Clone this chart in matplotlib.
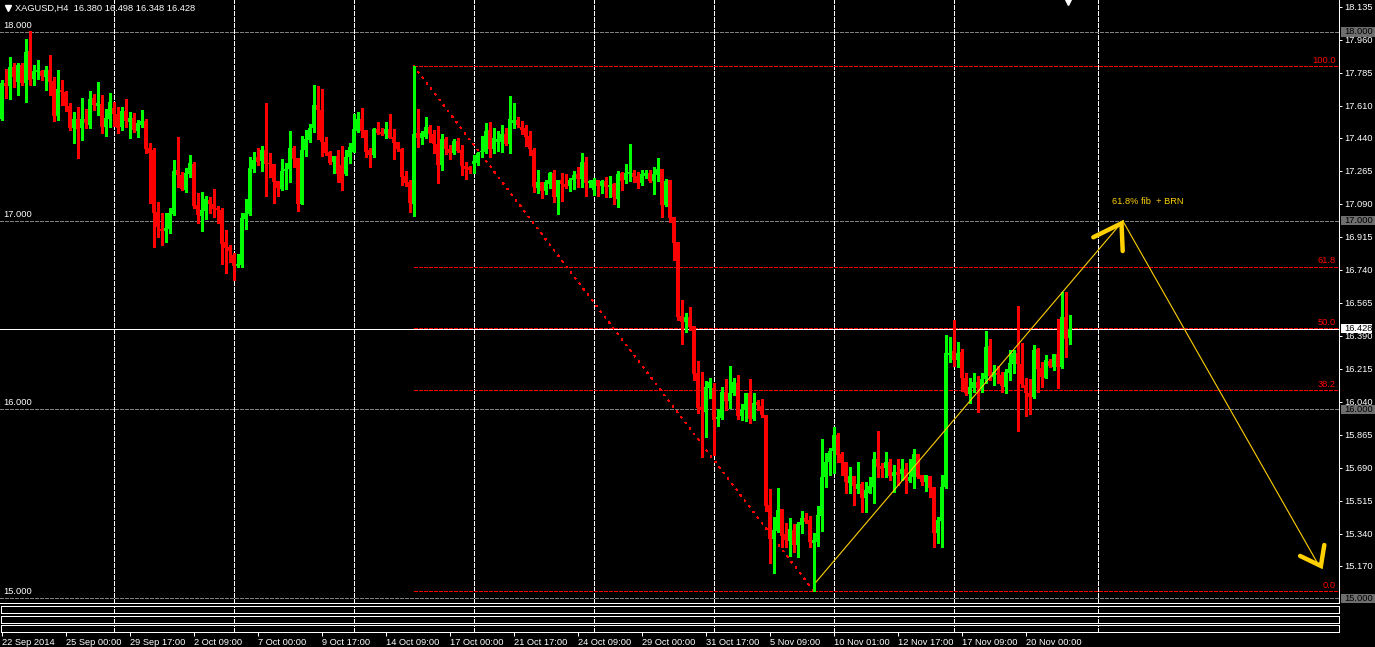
import numpy as np
import matplotlib.pyplot as plt
from matplotlib.transforms import blended_transform_factory
from matplotlib.patches import Rectangle

plt.rcParams['font.family'] = ['Liberation Sans', 'DejaVu Sans']
plt.rcParams['lines.scale_dashes'] = False

# XAGUSD H4 свечи (цены)
opens = [
    17.539, 17.730, 17.714, 17.815, 17.735, 17.825, 17.730, 17.900, 17.751, 17.788,
    17.794, 17.762, 17.799, 17.741, 17.555, 17.693, 17.682, 17.608, 17.492, 17.539,
    17.492, 17.539, 17.508, 17.651, 17.608, 17.619, 17.497, 17.539, 17.598, 17.566,
    17.497, 17.582, 17.523, 17.545, 17.476, 17.508, 17.529, 17.386, 17.375, 17.046,
    16.956, 16.946, 16.956, 17.036, 17.269, 17.243, 17.163, 17.248, 17.301, 17.084,
    17.025, 17.052, 17.110, 17.089, 17.068, 17.057, 16.887, 16.861, 16.819, 16.760,
    16.766, 17.009, 17.036, 17.274, 17.338, 17.317, 17.375, 17.306, 17.301, 17.211,
    17.168, 17.264, 17.274, 17.386, 17.333, 17.089, 17.375, 17.428, 17.492, 17.614,
    17.587, 17.417, 17.364, 17.311, 17.343, 17.296, 17.248, 17.338, 17.364, 17.476,
    17.539, 17.481, 17.375, 17.349, 17.486, 17.470, 17.460, 17.486, 17.444, 17.417,
    17.380, 17.237, 17.205, 17.089, 17.465, 17.439, 17.444, 17.497, 17.460, 17.407,
    17.296, 17.433, 17.380, 17.359, 17.423, 17.375, 17.290, 17.285, 17.301, 17.306,
    17.364, 17.364, 17.481, 17.380, 17.417, 17.417, 17.460, 17.407, 17.518, 17.534,
    17.497, 17.492, 17.449, 17.375, 17.174, 17.205, 17.158, 17.195, 17.253, 17.126,
    17.216, 17.195, 17.184, 17.216, 17.248, 17.221, 17.311, 17.200, 17.163, 17.216,
    17.184, 17.211, 17.179, 17.195, 17.115, 17.253, 17.216, 17.248, 17.253, 17.237,
    17.200, 17.237, 17.253, 17.211, 17.243, 17.274, 17.084, 17.216, 17.020, 16.887,
    16.495, 16.463, 16.490, 16.442, 16.193, 16.013, 15.986, 16.114, 16.114, 15.949,
    15.955, 16.092, 16.045, 16.087, 16.140, 15.965, 15.997, 16.087, 15.949, 16.039,
    16.018, 15.970, 15.494, 15.313, 15.356, 15.472, 15.340, 15.303, 15.361, 15.282,
    15.388, 15.425, 15.414, 15.292, 15.297, 15.435, 15.642, 15.721, 15.780, 15.865,
    15.764, 15.721, 15.610, 15.647, 15.578, 15.605, 15.531, 15.557, 15.589, 15.737,
    15.700, 15.689, 15.721, 15.647, 15.668, 15.658, 15.684, 15.621, 15.642, 15.764,
    15.653, 15.616, 15.647, 15.589, 15.345, 15.409, 15.589, 16.289, 16.310, 16.262,
    16.304, 16.167, 16.082, 16.114, 16.146, 16.114, 16.161, 16.336, 16.172, 16.193,
    16.183, 16.119, 16.193, 16.241, 16.299, 16.241, 16.130, 16.087, 16.066, 16.320,
    16.220, 16.167, 16.257, 16.225, 16.294, 16.225, 16.490, 16.380,
]
highs = [
    17.746, 17.804, 17.868, 17.836, 17.836, 17.836, 17.963, 18.006, 17.825, 17.852,
    17.799, 17.820, 17.879, 17.762, 17.799, 17.746, 17.688, 17.624, 17.576, 17.603,
    17.651, 17.592, 17.688, 17.672, 17.735, 17.667, 17.592, 17.677, 17.629, 17.603,
    17.603, 17.645, 17.576, 17.571, 17.534, 17.587, 17.539, 17.412, 17.386, 17.099,
    17.041, 17.041, 17.068, 17.322, 17.444, 17.258, 17.280, 17.349, 17.311, 17.147,
    17.152, 17.131, 17.126, 17.168, 17.078, 17.068, 16.951, 16.872, 16.829, 16.824,
    17.041, 17.115, 17.338, 17.364, 17.386, 17.396, 17.624, 17.359, 17.301, 17.211,
    17.327, 17.306, 17.476, 17.396, 17.333, 17.449, 17.481, 17.513, 17.720, 17.714,
    17.698, 17.444, 17.370, 17.343, 17.375, 17.396, 17.375, 17.412, 17.566, 17.576,
    17.598, 17.481, 17.386, 17.492, 17.523, 17.492, 17.523, 17.566, 17.486, 17.417,
    17.386, 17.264, 17.216, 17.820, 17.592, 17.476, 17.550, 17.508, 17.481, 17.502,
    17.460, 17.444, 17.402, 17.433, 17.439, 17.402, 17.311, 17.290, 17.349, 17.364,
    17.449, 17.518, 17.523, 17.492, 17.476, 17.508, 17.492, 17.661, 17.624, 17.550,
    17.529, 17.508, 17.476, 17.386, 17.269, 17.205, 17.216, 17.258, 17.269, 17.216,
    17.253, 17.248, 17.227, 17.264, 17.285, 17.359, 17.338, 17.216, 17.227, 17.216,
    17.216, 17.232, 17.237, 17.200, 17.264, 17.258, 17.301, 17.407, 17.269, 17.258,
    17.269, 17.269, 17.269, 17.285, 17.333, 17.274, 17.221, 17.216, 17.020, 16.887,
    16.580, 16.511, 16.543, 16.442, 16.257, 16.198, 16.151, 16.167, 16.140, 16.002,
    16.119, 16.161, 16.230, 16.167, 16.183, 16.029, 16.087, 16.161, 16.087, 16.050,
    16.055, 15.970, 15.578, 15.430, 15.584, 15.472, 15.398, 15.425, 15.393, 15.403,
    15.462, 15.451, 15.435, 15.345, 15.488, 15.843, 15.769, 15.796, 15.907, 15.875,
    15.774, 15.721, 15.695, 15.647, 15.721, 15.616, 15.616, 15.642, 15.774, 15.886,
    15.716, 15.774, 15.737, 15.705, 15.737, 15.737, 15.716, 15.737, 15.790, 15.764,
    15.653, 15.653, 15.647, 15.589, 15.430, 15.653, 16.395, 16.384, 16.474, 16.357,
    16.320, 16.193, 16.167, 16.193, 16.177, 16.193, 16.416, 16.373, 16.236, 16.230,
    16.198, 16.214, 16.315, 16.315, 16.548, 16.352, 16.167, 16.161, 16.342, 16.326,
    16.251, 16.289, 16.267, 16.294, 16.479, 16.622, 16.622, 16.498,
]
lows = [
    17.534, 17.651, 17.645, 17.709, 17.667, 17.720, 17.629, 17.720, 17.720, 17.751,
    17.746, 17.693, 17.667, 17.529, 17.534, 17.614, 17.582, 17.481, 17.412, 17.333,
    17.428, 17.492, 17.492, 17.587, 17.561, 17.465, 17.449, 17.497, 17.502, 17.465,
    17.481, 17.497, 17.439, 17.470, 17.444, 17.497, 17.359, 17.094, 16.861, 16.914,
    16.872, 16.887, 16.935, 17.030, 17.179, 17.163, 17.152, 17.232, 17.068, 16.988,
    16.946, 17.009, 17.041, 17.020, 16.988, 16.771, 16.723, 16.781, 16.686, 16.755,
    16.755, 16.956, 17.030, 17.258, 17.296, 17.264, 17.131, 17.232, 17.094, 17.131,
    17.163, 17.168, 17.205, 17.285, 17.052, 17.089, 17.343, 17.417, 17.470, 17.433,
    17.343, 17.349, 17.301, 17.253, 17.205, 17.163, 17.243, 17.306, 17.364, 17.470,
    17.444, 17.338, 17.285, 17.338, 17.460, 17.454, 17.439, 17.439, 17.327, 17.370,
    17.190, 17.184, 17.046, 17.025, 17.391, 17.407, 17.439, 17.417, 17.359, 17.200,
    17.269, 17.354, 17.327, 17.354, 17.364, 17.243, 17.221, 17.253, 17.253, 17.296,
    17.338, 17.359, 17.338, 17.359, 17.370, 17.364, 17.402, 17.359, 17.492, 17.497,
    17.460, 17.396, 17.349, 17.152, 17.147, 17.121, 17.142, 17.174, 17.099, 17.036,
    17.105, 17.174, 17.158, 17.168, 17.179, 17.179, 17.131, 17.179, 17.137, 17.131,
    17.147, 17.126, 17.126, 17.089, 17.073, 17.163, 17.200, 17.211, 17.205, 17.174,
    17.190, 17.227, 17.205, 17.142, 17.211, 17.020, 17.078, 16.993, 16.792, 16.474,
    16.347, 16.410, 16.421, 16.156, 15.981, 15.748, 15.854, 16.061, 15.759, 15.912,
    15.949, 15.997, 16.008, 16.077, 15.949, 15.944, 15.939, 15.928, 15.944, 15.997,
    15.960, 15.462, 15.186, 15.133, 15.350, 15.271, 15.271, 15.223, 15.244, 15.218,
    15.345, 15.398, 15.271, 15.037, 15.276, 15.356, 15.589, 15.653, 15.663, 15.721,
    15.653, 15.557, 15.557, 15.494, 15.557, 15.456, 15.456, 15.557, 15.504, 15.642,
    15.642, 15.642, 15.626, 15.562, 15.600, 15.626, 15.557, 15.616, 15.584, 15.637,
    15.600, 15.568, 15.536, 15.271, 15.292, 15.271, 15.584, 16.251, 16.230, 16.225,
    16.098, 16.077, 16.034, 16.092, 15.986, 16.092, 16.140, 16.156, 16.130, 16.140,
    16.092, 16.087, 16.156, 16.193, 15.886, 16.119, 15.965, 15.976, 16.061, 16.092,
    16.119, 16.167, 16.225, 16.209, 16.114, 16.220, 16.278, 16.348,
]
closes = [
    17.730, 17.714, 17.815, 17.762, 17.825, 17.730, 17.894, 17.746, 17.794, 17.799,
    17.767, 17.799, 17.735, 17.555, 17.698, 17.682, 17.608, 17.492, 17.539, 17.486,
    17.539, 17.518, 17.645, 17.614, 17.624, 17.497, 17.545, 17.629, 17.566, 17.492,
    17.582, 17.529, 17.545, 17.481, 17.518, 17.529, 17.380, 17.359, 17.041, 16.967,
    16.946, 16.962, 17.041, 17.264, 17.243, 17.168, 17.253, 17.306, 17.078, 17.031,
    17.057, 17.115, 17.089, 17.062, 17.057, 16.877, 16.856, 16.840, 16.760, 16.771,
    17.015, 17.041, 17.280, 17.322, 17.311, 17.375, 17.301, 17.301, 17.205, 17.174,
    17.264, 17.274, 17.386, 17.327, 17.089, 17.375, 17.433, 17.492, 17.614, 17.587,
    17.417, 17.359, 17.306, 17.343, 17.248, 17.200, 17.338, 17.391, 17.486, 17.539,
    17.476, 17.364, 17.349, 17.486, 17.465, 17.460, 17.486, 17.439, 17.412, 17.380,
    17.232, 17.200, 17.094, 17.460, 17.439, 17.465, 17.497, 17.460, 17.407, 17.296,
    17.433, 17.380, 17.359, 17.423, 17.370, 17.290, 17.274, 17.269, 17.317, 17.359,
    17.370, 17.476, 17.380, 17.439, 17.433, 17.460, 17.407, 17.539, 17.534, 17.508,
    17.481, 17.444, 17.380, 17.179, 17.205, 17.158, 17.205, 17.253, 17.126, 17.216,
    17.195, 17.179, 17.216, 17.243, 17.221, 17.311, 17.200, 17.211, 17.216, 17.184,
    17.211, 17.179, 17.190, 17.126, 17.248, 17.211, 17.253, 17.258, 17.232, 17.200,
    17.248, 17.253, 17.211, 17.248, 17.274, 17.084, 17.211, 17.015, 16.882, 16.490,
    16.463, 16.490, 16.437, 16.188, 16.008, 15.997, 16.119, 16.146, 15.944, 15.960,
    16.092, 16.045, 16.087, 16.146, 15.965, 15.997, 16.087, 15.949, 16.034, 16.023,
    15.970, 15.488, 15.313, 15.361, 15.467, 15.329, 15.308, 15.366, 15.282, 15.393,
    15.425, 15.403, 15.297, 15.308, 15.441, 15.642, 15.721, 15.780, 15.865, 15.759,
    15.716, 15.616, 15.647, 15.594, 15.605, 15.531, 15.573, 15.594, 15.737, 15.695,
    15.684, 15.721, 15.647, 15.668, 15.653, 15.684, 15.626, 15.642, 15.764, 15.642,
    15.616, 15.653, 15.584, 15.345, 15.414, 15.589, 16.299, 16.299, 16.262, 16.299,
    16.167, 16.087, 16.119, 16.146, 16.114, 16.161, 16.331, 16.177, 16.198, 16.183,
    16.124, 16.198, 16.246, 16.299, 16.241, 16.135, 16.087, 16.066, 16.315, 16.214,
    16.172, 16.262, 16.230, 16.294, 16.225, 16.490, 16.373, 16.428,
]

# подписи оси времени (каждые 16 баров)
time_labels = ['22 Sep 2014', '25 Sep 00:00', '29 Sep 17:00', '2 Oct 09:00', '7 Oct 00:00',
               '9 Oct 17:00', '14 Oct 09:00', '17 Oct 00:00', '21 Oct 17:00', '24 Oct 09:00',
               '29 Oct 00:00', '31 Oct 17:00', '5 Nov 09:00', '10 Nov 01:00', '12 Nov 17:00',
               '17 Nov 09:00', '20 Nov 00:00']
price_ticks = [18.135, 17.960, 17.785, 17.610, 17.440, 17.265, 17.090, 16.915, 16.740,
               16.565, 16.390, 16.215, 16.040, 15.865, 15.690, 15.515, 15.340, 15.170]
round_levels = [18.0, 17.0, 16.0, 15.0]
fib_pcts = [0.0, 38.2, 50.0, 61.8, 100.0]
fib_hi_bar, fib_lo_bar = 103, 203
week_bars = [28, 58, 88, 118, 148, 178, 208, 238, 274]

# прогноз (жёлтые линии)
trend_x = [203.6, 280.3]
trend_y = [15.085, 16.998]
proj_x = [280.3, 329.3]
proj_y = [16.998, 15.172]
arrow_up_x = [272.9, 279.95, 280.25]
arrow_up_y = [16.912, 16.986, 16.839]
arrow_dn_x = [324.6, 329.8, 330.65]
arrow_dn_y = [15.223, 15.170, 15.281]

o = np.array(opens); h = np.array(highs); l = np.array(lows); c = np.array(closes)
idx = np.arange(len(o))

W, H = 1375, 647
fig = plt.figure(figsize=(W / 100, H / 100), dpi=100, facecolor='black')


def rect(x0, y0, x1, y1):
    return [x0 / W, 1 - y1 / H, (x1 - x0) / W, (y1 - y0) / H]


XL = (-0.425, 334.2)
fs = 6.7
GOLD = '#FFD000'
GRID_LS = (0, (2.9, 1.44))
LVL_LS = (0, (2.16, 1.44))

ax = fig.add_axes(rect(0, 0, 1338.5, 602.5))
ax.set_facecolor('black')
ax.set_xlim(*XL)
ax.set_ylim(14.9762, 18.1696)
for s in ['top', 'left']:
    ax.spines[s].set_visible(False)
for s in ['right', 'bottom']:
    ax.spines[s].set_color('white')
    ax.spines[s].set_linewidth(0.72)

# сетка по неделям
for g in week_bars:
    ax.axvline(g, color='white', lw=0.72, linestyle=GRID_LS, antialiased=False, zorder=1)

# круглые уровни
tr = blended_transform_factory(ax.transAxes, ax.transData)
for lv in round_levels:
    ax.axhline(lv, color='#808080', lw=0.72, linestyle=LVL_LS, antialiased=False, zorder=1)
    ax.annotate(f'{lv:.3f}', (3 / 1338.5, lv), xycoords=tr, xytext=(0, 1.5),
                textcoords='offset points', color='white', fontsize=fs, va='bottom')

# линия Bid
ax.axhline(c[-1], color='white', lw=0.72, antialiased=False, zorder=1.5)

# Фибоначчи
fib_hi = h[fib_hi_bar]
fib_lo = l[fib_lo_bar]
for p in fib_pcts:
    y = fib_lo + (fib_hi - fib_lo) * p / 100
    ax.plot([fib_hi_bar, XL[1]], [y, y], color='#ff0000', lw=0.72, linestyle=LVL_LS,
            antialiased=False, zorder=2)
    ax.annotate(f'{p:.1f}', (1336 / 1338.5, y), xycoords=tr, xytext=(0, 1),
                textcoords='offset points', color='#ff0000', fontsize=fs,
                ha='right', va='bottom')
ax.plot([fib_hi_bar, fib_lo_bar], [fib_hi, fib_lo], color='#ff0000', lw=0.8,
        linestyle=(0, (1.0, 3.6)), antialiased=False, zorder=2)

# свечи
up = c >= o
col = np.where(up, '#00ff00', '#ff0000')
ax.vlines(idx, l, h, colors=col, linewidth=0.75, antialiased=False, zorder=3)
body = np.maximum(np.abs(c - o), 0.0056)
ax.bar(idx, body, bottom=np.minimum(o, c), width=0.75, color=col, linewidth=0,
       antialiased=False, zorder=4)

# жёлтый прогноз
ax.plot(trend_x, trend_y, color=GOLD, lw=0.8, zorder=5)
ax.plot(proj_x, proj_y, color=GOLD, lw=0.8, zorder=5)
ax.plot(arrow_up_x, arrow_up_y, color=GOLD, lw=3.2, solid_capstyle='round',
        solid_joinstyle='miter', zorder=6)
ax.plot(arrow_dn_x, arrow_dn_y, color=GOLD, lw=3.2, solid_capstyle='round',
        solid_joinstyle='miter', zorder=6)
ax.text(277.6, 17.104, '61.8% fib  + BRN', color=GOLD, fontsize=fs, va='center', zorder=6)

# правая шкала цен
ax.yaxis.tick_right()
ax.set_yticks(price_ticks)
ax.set_yticklabels([f'{v:.3f}' for v in price_ticks])
ax.tick_params(axis='y', colors='white', labelsize=fs, length=2.5, width=0.72, pad=1.5)
ax.tick_params(axis='x', bottom=False, labelbottom=False)

for lv in round_levels:
    ax.add_patch(Rectangle((1341 / 1338.5, lv - 0.0239), 34 / 1338.5, 0.0478, transform=tr,
                           facecolor='#6e6e6e', edgecolor='none', clip_on=False, zorder=10))
    ax.text(1344.5 / 1338.5, lv, f'{lv:.3f}', transform=tr, color='black', fontsize=fs,
            va='center', clip_on=False, zorder=11)
ax.add_patch(Rectangle((1340.7 / 1338.5, c[-1] - 0.0249), 31 / 1338.5, 0.0498, transform=tr,
                       facecolor='white', edgecolor='none', clip_on=False, zorder=10))
ax.text(1344.5 / 1338.5, c[-1], f'{c[-1]:.3f}', transform=tr, color='black', fontsize=fs,
        va='center', clip_on=False, zorder=11)

# заголовок
ax.plot([8 / 1338.5], [1 - 7.5 / 602.5], marker='v', color='white', markersize=4.5,
        transform=ax.transAxes, clip_on=False)
ax.text(15 / 1338.5, 1 - 8 / 602.5,
        f'XAGUSD,H4  {o[-1]:.3f} {h[-1]:.3f} {l[-1]:.3f} {c[-1]:.3f}',
        transform=ax.transAxes, color='white', fontsize=fs, va='center')
ax.plot([1068 / 1338.5], [1 - 2 / 602.5], marker='v', color='white', markersize=5,
        transform=ax.transAxes, clip_on=False)

# пустые подокна
boxes = [(605.5, 613.3), (615.5, 623.3), (625.3, 632.3)]
for k, (y0, y1) in enumerate(boxes):
    s = fig.add_axes(rect(0.5, y0, 1338.5, y1))
    s.set_facecolor('black')
    s.set_xlim(*XL)
    s.set_ylim(0, 1)
    s.set_yticks([])
    for sp in s.spines.values():
        sp.set_color('white')
        sp.set_linewidth(0.72)
    for g in week_bars:
        s.axvline(g, color='white', lw=0.72, linestyle=GRID_LS, antialiased=False, zorder=1)
    if k == len(boxes) - 1:
        ticks = np.arange(len(time_labels)) * 16
        s.set_xticks(ticks)
        s.set_xticklabels(time_labels, ha='left')
        s.tick_params(axis='x', colors='white', labelsize=fs, length=3, width=0.72, pad=1)
    else:
        s.set_xticks([])

fig.savefig('out.png', dpi=100, facecolor='black')
